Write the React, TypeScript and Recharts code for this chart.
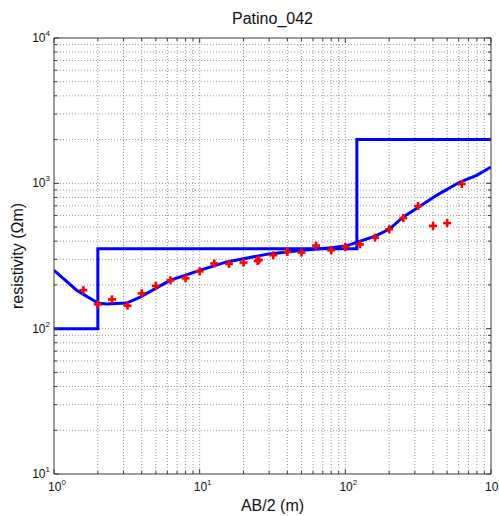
import { ComposedChart, Line, ReferenceLine, Scatter, XAxis, YAxis } from 'recharts'

// observed apparent resistivity (AB/2 in m, rho in ohm-m)
const obsAB = [1.59, 2.0, 2.5, 3.2, 4.0, 5.0, 6.3, 8.0, 10, 12.6, 15.9, 20, 25, 25.5, 32, 40, 50, 63, 80, 100, 126, 160, 200, 250, 316, 400, 500, 630]
const obsRho = [184, 147, 159, 144, 175, 197, 215, 222, 248, 281, 279, 285, 292, 298, 320, 337, 334, 373, 346, 365, 380, 423, 483, 577, 698, 509, 533, 989]

// fitted sounding curve
const fitAB = [1, 1.43, 2.0, 2.3, 3.15, 3.9, 6.25, 10, 15.3, 30, 49, 80, 100, 125, 160, 200, 250, 325, 423, 612, 797, 1000]
const fitRho = [252, 184, 150, 148, 150, 165, 215, 252, 288, 327, 345, 361, 370, 398, 433, 483, 587, 695, 827, 1021, 1135, 1294]

// layered model
const layerAB = [1, 2, 2, 120, 120, 1000]
const layerRho = [100, 100, 355, 355, 2000, 2000]

const xTicks = [1, 2, 3, 4, 5, 6, 7, 8, 9, 10, 20, 30, 40, 50, 60, 70, 80, 90, 100, 200, 300, 400, 500, 600, 700, 800, 900, 1000]
const yTicks = [10, 20, 30, 40, 50, 60, 70, 80, 90, 100, 200, 300, 400, 500, 600, 700, 800, 900, 1000, 2000, 3000, 4000, 5000, 6000, 7000, 8000, 9000, 10000]

const obs = obsAB.map((ab, i) => ({ ab, rho: obsRho[i] }))
const fit = fitAB.map((ab, i) => ({ ab, rho: fitRho[i] }))
const layers = layerAB.map((ab, i) => ({ ab, rho: layerRho[i] }))

const font = '"Liberation Sans", Arial, sans-serif'
const frame = '#3a3a3a'

const isDecade = (v: number) => Math.abs(Math.log10(v) - Math.round(Math.log10(v))) < 1e-9

function PowLabel({ x, y, v, anchor }: { x: number; y: number; v: number; anchor: 'middle' | 'end' }) {
  const e = Math.round(Math.log10(v))
  return (
    <text x={x} y={y} textAnchor={anchor} fontFamily={font} fontSize={12} fill="#111">
      10<tspan dy={-6} fontSize={8}>{e}</tspan>
    </text>
  )
}

function makeTick(side: 'bottom' | 'top' | 'left' | 'right') {
  return (props: any) => {
    const { x, y, payload } = props
    const v = payload.value
    const major = isDecade(v)
    const len = major ? 5 : 3
    if (side === 'bottom') {
      return (
        <g>
          <line x1={x} x2={x} y1={y} y2={y - len} stroke={frame} />
          {major && <PowLabel x={x + 3} y={y + 17} v={v} anchor="middle" />}
        </g>
      )
    }
    if (side === 'top') return <line x1={x} x2={x} y1={y} y2={y + len} stroke={frame} />
    if (side === 'left') {
      return (
        <g>
          <line x1={x} x2={x + len} y1={y} y2={y} stroke={frame} />
          {major && <PowLabel x={x - 4} y={y + 4} v={v} anchor="end" />}
        </g>
      )
    }
    return <line x1={x} x2={x - len} y1={y} y2={y} stroke={frame} />
  }
}

function Plus({ cx, cy }: any) {
  return (
    <g stroke="#ff0000" strokeWidth={2.6}>
      <line x1={cx - 4} x2={cx + 4} y1={cy} y2={cy} />
      <line x1={cx} x2={cx} y1={cy - 4} y2={cy + 4} />
    </g>
  )
}

export default function App() {
  const gridX = xTicks.filter((v) => v > 1 && v < 1000)
  const gridY = yTicks.filter((v) => v > 10 && v < 10000)
  return (
    <div style={{ position: 'absolute', left: 0, top: 0, width: 499, height: 516, background: '#fff', fontFamily: font }}>
      <div style={{ position: 'absolute', left: 0, width: 545, top: 10, textAlign: 'center', fontSize: 16, color: '#111' }}>Patino_042</div>
      <div style={{ position: 'absolute', left: 0, width: 545, top: 497, textAlign: 'center', fontSize: 16, color: '#111' }}>AB/2 (m)</div>
      <div
        style={{
          position: 'absolute', left: 18, top: 256, fontSize: 16, color: '#111', whiteSpace: 'nowrap',
          transform: 'translate(-50%, -50%) rotate(-90deg)',
        }}
      >
        resistivity (Ωm)
      </div>
      <ComposedChart width={499} height={516} margin={{ top: 0, right: 0, bottom: 0, left: 0 }} style={{ position: 'absolute', left: 0, top: 0 }}>
        <XAxis xAxisId="b" dataKey="ab" type="number" scale="log" domain={[1, 1000]} allowDataOverflow ticks={xTicks} interval={0}
          orientation="bottom" height={42} tickSize={0} tickMargin={0} axisLine={{ stroke: frame }} tickLine={false} tick={makeTick('bottom')} />
        <XAxis xAxisId="t" dataKey="ab" type="number" scale="log" domain={[1, 1000]} allowDataOverflow ticks={xTicks} interval={0}
          orientation="top" height={38} tickSize={0} tickMargin={0} axisLine={{ stroke: frame }} tickLine={false} tick={makeTick('top')} />
        <YAxis yAxisId="l" dataKey="rho" type="number" scale="log" domain={[10, 10000]} allowDataOverflow ticks={yTicks} interval={0}
          orientation="left" width={54} tickSize={0} tickMargin={0} axisLine={{ stroke: frame }} tickLine={false} tick={makeTick('left')} />
        <YAxis yAxisId="r" dataKey="rho" type="number" scale="log" domain={[10, 10000]} allowDataOverflow ticks={yTicks} interval={0}
          orientation="right" width={8} tickSize={0} tickMargin={0} axisLine={{ stroke: frame }} tickLine={false} tick={makeTick('right')} />
        {gridX.map((v) => (
          <ReferenceLine key={'gx' + v} x={v} xAxisId="b" yAxisId="l" stroke="#999" strokeDasharray="1 2" />
        ))}
        {gridY.map((v) => (
          <ReferenceLine key={'gy' + v} y={v} xAxisId="b" yAxisId="l" stroke="#999" strokeDasharray="1 2" />
        ))}
        <Line data={layers} dataKey="rho" xAxisId="b" yAxisId="l" type="linear" stroke="#0000ff" strokeWidth={3} dot={false} isAnimationActive={false} />
        <Line data={fit} dataKey="rho" xAxisId="b" yAxisId="l" type="linear" stroke="#0000ff" strokeWidth={3} dot={false} isAnimationActive={false} />
        <Scatter data={obs} dataKey="rho" xAxisId="b" yAxisId="l" shape={Plus} isAnimationActive={false} />
      </ComposedChart>
    </div>
  )
}
